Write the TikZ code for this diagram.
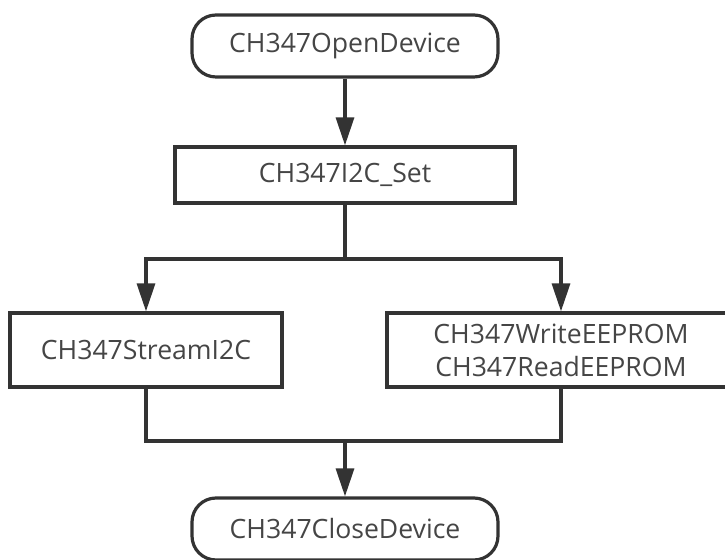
\documentclass[tikz,border=0pt]{standalone}
\usepackage{fontspec}
\setmainfont{Open Sans}
\usetikzlibrary{arrows.meta, positioning}
\definecolor{linegray}{HTML}{333333}
\definecolor{textgray}{HTML}{454545}

\begin{document}
\begin{tikzpicture}[x=0.5pt, y=-0.5pt,
    terminal/.style={rectangle, rounded corners=12pt, draw=linegray, line width=1.6pt, text=textgray, font=\fontsize{13.3}{16.5}\selectfont, minimum width=153pt, minimum height=31pt, align=center},
    process/.style={rectangle, draw=linegray, line width=1.6pt, text=textgray, font=\fontsize{13.3}{16.5}\selectfont, minimum height=37pt, align=center},
    flow/.style={draw=linegray, line width=1.6pt},
    arrow/.style={flow, -{Triangle[length=14pt, width=9pt]}}]
    \useasboundingbox (0,0) rectangle (725,560);
        % Define blocks
        \node (open) [terminal] at (345,46) {CH347OpenDevice};
        \node (set) [process, minimum width=170pt, minimum height=28pt] at (345,175) {CH347I2C\_Set};
        \node (stream) [process, minimum width=136pt] at (146,350) {CH347StreamI2C};
        \node (eeprom) [process, minimum width=174pt] at (561,350) {CH347WriteEEPROM\\CH347ReadEEPROM};
        \node (close) [terminal] at (345,529) {CH347CloseDevice};
        \coordinate (split) at (345,259);
        \coordinate (merge) at (345,441);

        % Draw arrows
        \draw[arrow] (open) -- (set);
        \draw[flow] (set) -- (split);
        \draw[arrow] (split) -| (stream);
        \draw[arrow] (split) -| (eeprom);
        \draw[flow] (stream) |- (merge);
        \draw[flow] (eeprom) |- (merge);
        \draw[arrow] (merge) -- (close);

    \end{tikzpicture}
\end{document}
